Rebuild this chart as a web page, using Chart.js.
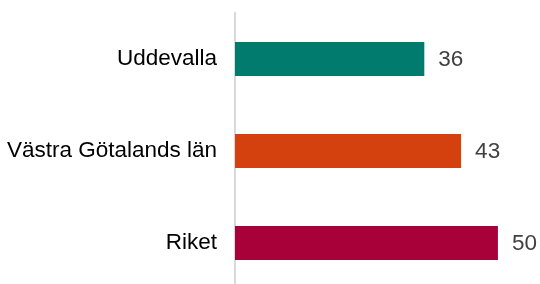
<!DOCTYPE html>
<html>
<head>
  <meta charset="UTF-8">
  <title>Uddevalla jämförelse</title>
  <script src="https://cdn.jsdelivr.net/npm/chart.js"></script>
  <style>
    html, body { margin: 0; padding: 0; background: #fff; overflow: hidden; }
    .wrap { width: 540px; height: 289px; position: relative; }
  </style>
</head>
<body>
  <div class="wrap"><canvas id="chart"></canvas></div>

  <script>
    const categories = ["Uddevalla", "Västra Götalands län", "Riket"];
    const values = [36, 43, 50];
    const barColors = ["#007B6E", "#D5400F", "#A80038"];

    const FONT = "'Liberation Sans', Arial, sans-serif";

    // draw value to the right of each bar
    const valueLabels = {
      id: "valueLabels",
      afterDatasetsDraw(chart) {
        const ctx = chart.ctx;
        const meta = chart.getDatasetMeta(0);
        ctx.save();
        ctx.font = "22.5px " + FONT;
        ctx.fillStyle = "#404040";
        ctx.textAlign = "left";
        ctx.textBaseline = "middle";
        meta.data.forEach((bar, i) => {
          ctx.fillText(String(values[i]), bar.x + 14, bar.y + 1);
        });
        ctx.restore();
      }
    };

    new Chart(document.getElementById("chart").getContext("2d"), {
      type: "bar",
      data: {
        labels: categories,
        datasets: [{
          data: values,
          backgroundColor: barColors,
          borderWidth: 0,
          categoryPercentage: 1,
          barPercentage: 0.37
        }]
      },
      options: {
        indexAxis: "y",
        responsive: true,
        maintainAspectRatio: false,
        animation: false,
        layout: { padding: { top: 13, right: 0, bottom: 0, left: 0 } },
        plugins: {
          legend: { display: false },
          tooltip: { enabled: false }
        },
        scales: {
          x: {
            display: false,
            min: 0,
            max: 58
          },
          y: {
            afterFit(scale) {
              scale.width = 235;
              scale.paddingTop = 0;
              scale.paddingBottom = 0;
            },
            grid: { display: false, drawTicks: false },
            border: { display: true, color: "#d9d9d9", width: 2 },
            ticks: {
              padding: 18,
              color: "#000",
              font: { family: FONT, size: 22.5 }
            }
          }
        }
      },
      plugins: [valueLabels]
    });
  </script>
</body>
</html>
